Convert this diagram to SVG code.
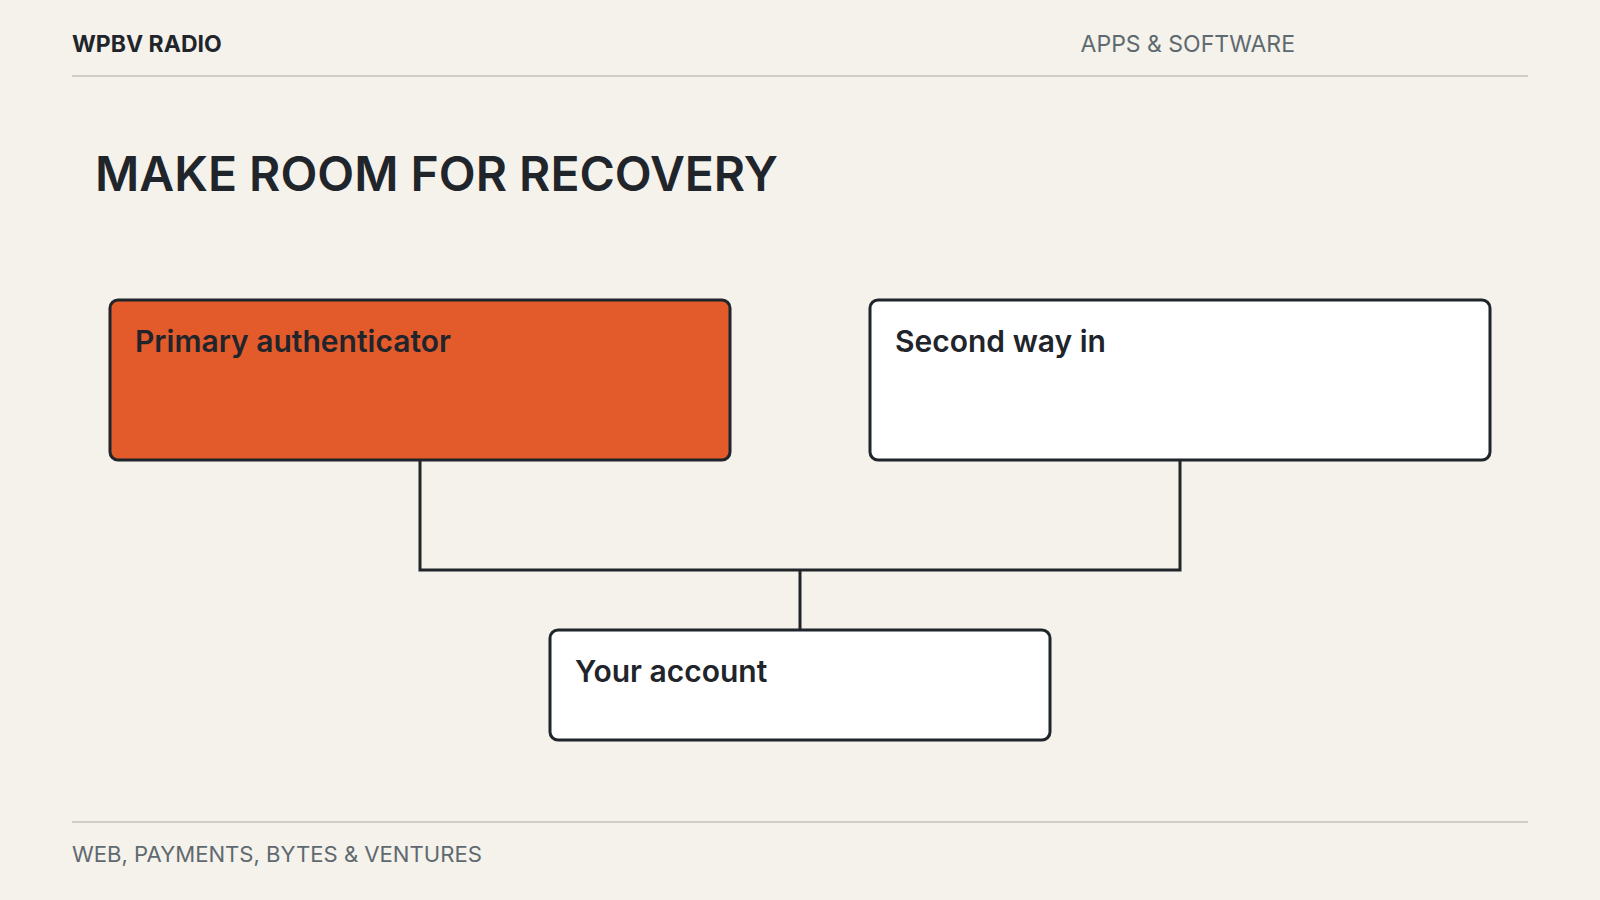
<svg xmlns="http://www.w3.org/2000/svg" width="1600" height="900" viewBox="0 0 1600 900">
<style>
.bg{fill:#f4f2ea}
.rule{stroke:#cfcec6;stroke-width:2;fill:none}
.brand{font-family:Inter,"Noto Sans","Liberation Sans",sans-serif;font-weight:700;font-size:23px;fill:#1f252b}
.meta{font-family:Inter,"Noto Sans","Liberation Sans",sans-serif;font-weight:400;font-size:23px;fill:#5f6970}
.foot{font-family:Inter,"Noto Sans","Liberation Sans",sans-serif;font-weight:400;font-size:22.1px;fill:#5f6970}
.title{font-family:Inter,"Noto Sans","Liberation Sans",sans-serif;font-weight:600;font-size:48px;fill:#1f252b}
.box{stroke:#1f252b;stroke-width:3}
.hot{fill:#e35a2b}
.plain{fill:#ffffff}
.label{font-family:Inter,"Noto Sans","Liberation Sans",sans-serif;font-weight:600;font-size:30px;fill:#1f252b}
.conn{stroke:#1f252b;stroke-width:3;fill:none}
</style>
<rect class="bg" x="0" y="0" width="1600" height="900"/>
<g id="header">
<text class="brand" x="72" y="52">WPBV RADIO</text>
<text class="meta" x="1295" y="52" text-anchor="end">APPS &amp; SOFTWARE</text>
<line class="rule" x1="72" y1="76" x2="1528" y2="76"/>
</g>
<text class="title" x="95" y="191">MAKE ROOM FOR RECOVERY</text>
<g id="connectors">
<polyline class="conn" points="420,460 420,570 1180,570 1180,460"/>
<line class="conn" x1="800" y1="570" x2="800" y2="630"/>
</g>
<g id="primary">
<rect class="box hot" x="110" y="300" width="620" height="160" rx="8"/>
<text class="label" x="135" y="352">Primary authenticator</text>
</g>
<g id="second">
<rect class="box plain" x="870" y="300" width="620" height="160" rx="8"/>
<text class="label" x="895" y="352">Second way in</text>
</g>
<g id="account">
<rect class="box plain" x="550" y="630" width="500" height="110" rx="8"/>
<text class="label" x="575" y="682">Your account</text>
</g>
<g id="footer">
<line class="rule" x1="72" y1="822" x2="1528" y2="822"/>
<text class="foot" x="72" y="862">WEB, PAYMENTS, BYTES &amp; VENTURES</text>
</g>
</svg>
